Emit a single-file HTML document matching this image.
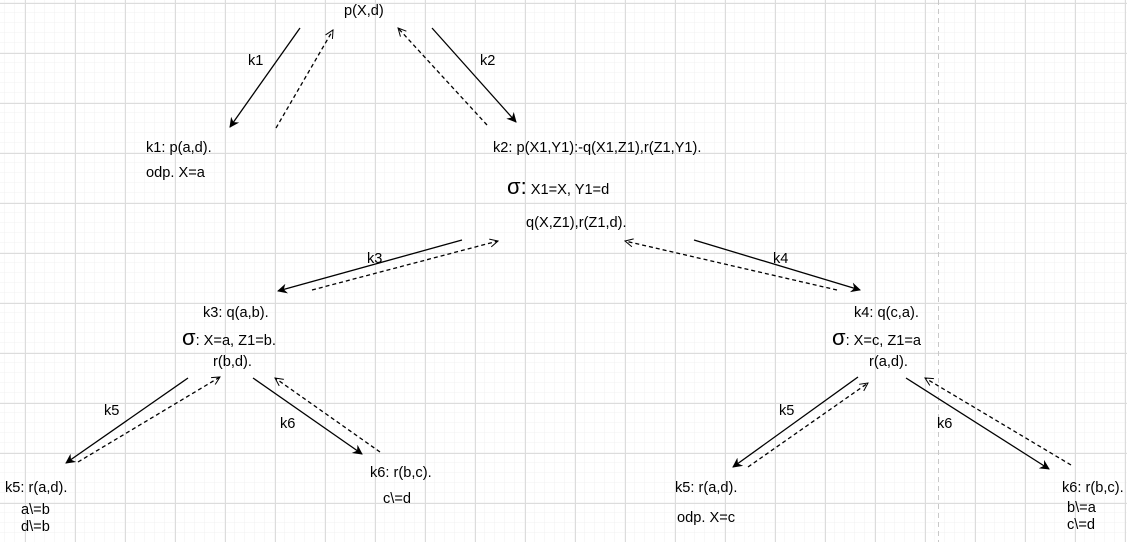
<!DOCTYPE html>
<html><head><meta charset="utf-8"><style>
html,body{margin:0;padding:0;background:#fff}
svg{display:block}
text{font-family:"Liberation Sans",Arial,sans-serif;font-size:14.6px;fill:#000}
.sig{font-size:22px}
</style></head><body>
<svg id="diagram" width="1127" height="542" viewBox="0 0 1127 542" xmlns="http://www.w3.org/2000/svg">
<defs>
<pattern id="minor" width="10" height="10" patternUnits="userSpaceOnUse" x="5" y="3"><path d="M10 0V10M0 10H10" stroke="#f0f0f0" stroke-width="1" fill="none"/></pattern>
<pattern id="major" width="50" height="50" patternUnits="userSpaceOnUse" x="25" y="3"><path d="M0.5 0V50M0 0.5H50" stroke="#dcdcdc" stroke-width="1" fill="none"/></pattern>
<marker id="solidHead" markerWidth="10" markerHeight="10" refX="9" refY="5" orient="auto" markerUnits="userSpaceOnUse"><path d="M0,0 L10,5 L0,10 L3,5 Z" fill="#000"/></marker>
<marker id="openHead" markerWidth="10" markerHeight="10" refX="9" refY="5" orient="auto" markerUnits="userSpaceOnUse"><path d="M1,1 L9,5 L1,9" fill="none" stroke="#000" stroke-width="1"/></marker>
</defs>
<rect width="1127" height="542" fill="url(#minor)"/>
<rect width="1127" height="542" fill="url(#major)"/>
<line x1="938.5" y1="0" x2="938.5" y2="542" stroke="#c8c8c8" stroke-dasharray="5,4"/>

<g stroke="#000" stroke-width="1.3" fill="none">
<line x1="300" y1="28" x2="230" y2="127" marker-end="url(#solidHead)"/>
<line x1="276" y1="128" x2="333" y2="30" stroke-dasharray="4,3" marker-end="url(#openHead)"/>
<line x1="432" y1="28" x2="516" y2="122" marker-end="url(#solidHead)"/>
<line x1="487" y1="125" x2="398" y2="28" stroke-dasharray="4,3" marker-end="url(#openHead)"/>
<line x1="462" y1="240" x2="278" y2="291" marker-end="url(#solidHead)"/>
<line x1="312" y1="290" x2="498" y2="241" stroke-dasharray="4,3" marker-end="url(#openHead)"/>
<line x1="694" y1="240" x2="860" y2="290" marker-end="url(#solidHead)"/>
<line x1="837" y1="290" x2="625" y2="241" stroke-dasharray="4,3" marker-end="url(#openHead)"/>
<line x1="188" y1="378" x2="66" y2="463" marker-end="url(#solidHead)"/>
<line x1="78" y1="462" x2="220" y2="377" stroke-dasharray="4,3" marker-end="url(#openHead)"/>
<line x1="253" y1="378" x2="362" y2="454" marker-end="url(#solidHead)"/>
<line x1="380" y1="452" x2="275" y2="378" stroke-dasharray="4,3" marker-end="url(#openHead)"/>
<line x1="858" y1="377" x2="733" y2="467" marker-end="url(#solidHead)"/>
<line x1="748" y1="467" x2="868" y2="383" stroke-dasharray="4,3" marker-end="url(#openHead)"/>
<line x1="906" y1="378" x2="1049" y2="469" marker-end="url(#solidHead)"/>
<line x1="1071" y1="465" x2="925" y2="378" stroke-dasharray="4,3" marker-end="url(#openHead)"/>
</g>

<g>
<text x="344" y="15">p(X,d)</text>
<text x="248" y="65">k1</text>
<text x="480" y="65">k2</text>
<text x="146" y="152">k1: p(a,d).</text>
<text x="146" y="177">odp. X=a</text>
<text x="493" y="152">k2: p(X1,Y1):-q(X1,Z1),r(Z1,Y1).</text>
<text x="507" y="194"><tspan class="sig">σ:</tspan> X1=X, Y1=d</text>
<text x="526" y="227">q(X,Z1),r(Z1,d).</text>
<text x="367" y="263">k3</text>
<text x="773" y="263">k4</text>
<text x="203" y="317">k3: q(a,b).</text>
<text x="182" y="345"><tspan class="sig">σ</tspan>: X=a, Z1=b.</text>
<text x="213" y="366">r(b,d).</text>
<text x="854" y="317">k4: q(c,a).</text>
<text x="832" y="345"><tspan class="sig">σ</tspan>: X=c, Z1=a</text>
<text x="869" y="366">r(a,d).</text>
<text x="104" y="415">k5</text>
<text x="280" y="428">k6</text>
<text x="779" y="415">k5</text>
<text x="937" y="428">k6</text>
<text x="5" y="492">k5: r(a,d).</text>
<text x="21" y="514">a\=b</text>
<text x="21" y="531">d\=b</text>
<text x="370" y="477">k6: r(b,c).</text>
<text x="383" y="503">c\=d</text>
<text x="675" y="492">k5: r(a,d).</text>
<text x="677" y="522">odp. X=c</text>
<text x="1062" y="492">k6: r(b,c).</text>
<text x="1067" y="512">b\=a</text>
<text x="1067" y="529">c\=d</text>
</g>
</svg>
</body></html>
